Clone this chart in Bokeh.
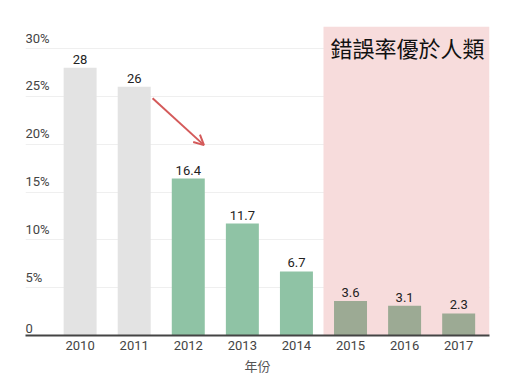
from bokeh.plotting import figure
from bokeh.models import (Range1d, FixedTicker, BoxAnnotation, Label, Arrow,
                          OpenHead, ColumnDataSource)
from bokeh.core.properties import value
from bokeh.embed import file_html
from bokeh.resources import INLINE

years = [2010, 2011, 2012, 2013, 2014, 2015, 2016, 2017]
error_rate = [28, 26, 16.4, 11.7, 6.7, 3.6, 3.1, 2.3]
value_labels = ["28", "26", "16.4", "11.7", "6.7", "3.6", "3.1", "2.3"]
y_ticks = [0, 5, 10, 15, 20, 25, 30]
y_tick_labels = ["0", "5%", "10%", "15%", "20%", "25%", "30%"]
highlight_title = "錯誤率優於人類"
x_axis_title = "年份"
better_than_human_from = 2015

FONT = "Roboto"


def bar_color(y):
    if y < 2012:
        return "#e3e3e3"
    if y < better_than_human_from:
        return "#8fc3a5"
    return "#9caa94"


src = ColumnDataSource(dict(
    x=years, top=error_rate, lab=value_labels,
    color=[bar_color(y) for y in years]))

x0, x1 = 2008.99, 2017.57
y0, y1 = 0, 32.3

p = figure(width=512, height=377, output_backend="svg", toolbar_location=None,
           x_range=Range1d(x0, x1), y_range=Range1d(y0, y1),
           min_border_left=25, min_border_right=23, min_border_top=26,
           min_border_bottom=41)
p.outline_line_color = None
p.background_fill_color = "white"
p.border_fill_color = "white"

# pink highlight area
p.add_layout(BoxAnnotation(left=better_than_human_from - 0.5, fill_color="#f7dcdc",
                           fill_alpha=1.0, line_color=None, level="underlay"))

p.vbar(x="x", top="top", width=0.61, bottom=0, fill_color="color",
       line_color=None, source=src)

p.text(x="x", y="top", text="lab", source=src, text_align="center",
       text_baseline="bottom", y_offset=-4, text_font=value(FONT),
       text_font_size="13px", text_color="#222222")

# y tick labels above the gridlines
p.text(x=[x0] * len(y_ticks), y=y_ticks, text=y_tick_labels, text_align="left",
       text_baseline="bottom", y_offset=-3, text_font=value(FONT),
       text_font_size="13px", text_color="#444444")

p.yaxis.visible = False
p.ygrid.ticker = FixedTicker(ticks=y_ticks)
p.ygrid.grid_line_color = "#efefef"
p.xgrid.grid_line_color = None

xa = p.xaxis[0]
xa.ticker = FixedTicker(ticks=years)
xa.axis_line_color = "#444444"
xa.axis_line_width = 2
xa.major_tick_line_color = None
xa.minor_tick_line_color = None
xa.major_tick_out = 0
xa.major_tick_in = 0
xa.major_label_standoff = 5
xa.major_label_text_font = FONT
xa.major_label_text_font_size = "13px"
xa.major_label_text_color = "#444444"
xa.axis_label = x_axis_title
xa.axis_label_standoff = 3
xa.axis_label_text_font = "Noto Sans CJK TC"
xa.axis_label_text_font_size = "13px"
xa.axis_label_text_font_style = "normal"
xa.axis_label_text_color = "#555555"

p.add_layout(Label(x=better_than_human_from - 0.5, y=y1, x_offset=7, y_offset=-20,
                   text=highlight_title, text_align="left", text_baseline="middle",
                   text_font="Noto Sans CJK TC", text_font_size="22px",
                   text_color="#111111"))

p.add_layout(Arrow(x_start=2011.34, y_start=24.8, x_end=2012.29, y_end=19.9,
                   line_color="#d45a5a", line_width=2,
                   end=OpenHead(size=10, line_color="#d45a5a", line_width=2)))

open("out.html", "w").write(file_html(p, INLINE))
